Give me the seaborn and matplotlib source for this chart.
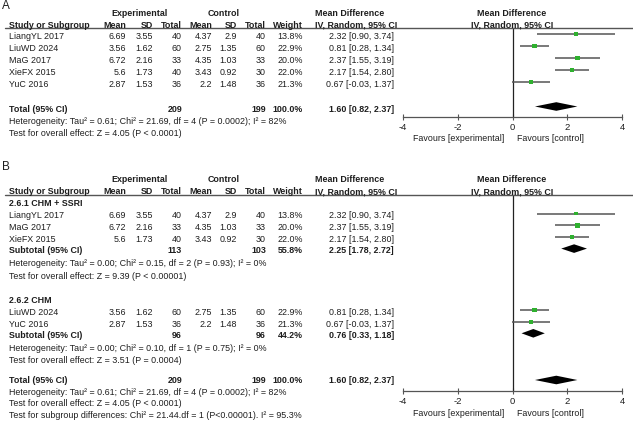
import matplotlib
matplotlib.use("Agg")
import matplotlib.pyplot as plt
import numpy as np
import pandas as pd
import seaborn as sns
from matplotlib.lines import Line2D

# study level data
studies = ["LiangYL 2017", "LiuWD 2024", "MaG 2017", "XieFX 2015", "YuC 2016"]
subgroup = ["2.6.1 CHM + SSRI", "2.6.2 CHM", "2.6.1 CHM + SSRI", "2.6.1 CHM + SSRI", "2.6.2 CHM"]
exp_mean = [6.69, 3.56, 6.72, 5.6, 2.87]
exp_sd = [3.55, 1.62, 2.16, 1.73, 1.53]
exp_n = [40, 60, 33, 40, 36]
ctl_mean = [4.37, 2.75, 4.35, 3.43, 2.2]
ctl_sd = [2.9, 1.35, 1.03, 0.92, 1.48]
ctl_n = [40, 60, 33, 30, 36]
weight = [13.8, 22.9, 20.0, 22.0, 21.3]
md = [2.32, 0.81, 2.37, 2.17, 0.67]
ci_lo = [0.90, 0.28, 1.55, 1.54, -0.03]
ci_hi = [3.74, 1.34, 3.19, 2.80, 1.37]

# pooled estimates
sub_names = ["2.6.1 CHM + SSRI", "2.6.2 CHM"]
sub_exp_n = [113, 96]
sub_ctl_n = [103, 96]
sub_weight = [55.8, 44.2]
sub_md = [2.25, 0.76]
sub_lo = [1.78, 0.33]
sub_hi = [2.72, 1.18]
sub_het = ["Heterogeneity: Tau\u00b2 = 0.00; Chi\u00b2 = 0.15, df = 2 (P = 0.93); I\u00b2 = 0%",
           "Heterogeneity: Tau\u00b2 = 0.00; Chi\u00b2 = 0.10, df = 1 (P = 0.75); I\u00b2 = 0%"]
sub_test = ["Test for overall effect: Z = 9.39 (P < 0.00001)",
            "Test for overall effect: Z = 3.51 (P = 0.0004)"]
tot_exp_n, tot_ctl_n, tot_weight = 209, 199, 100.0
tot_md, tot_lo, tot_hi = 1.60, 0.82, 2.37
tot_het = "Heterogeneity: Tau\u00b2 = 0.61; Chi\u00b2 = 21.69, df = 4 (P = 0.0002); I\u00b2 = 82%"
tot_test = "Test for overall effect: Z = 4.05 (P < 0.0001)"
subgroup_test = "Test for subgroup differences: Chi\u00b2 = 21.44.df = 1 (P<0.00001). I\u00b2 = 95.3%"
x_ticks = [-4, -2, 0, 2, 4]

df = pd.DataFrame(dict(study=studies, subgroup=subgroup, exp_mean=exp_mean, exp_sd=exp_sd,
                       exp_n=exp_n, ctl_mean=ctl_mean, ctl_sd=ctl_sd, ctl_n=ctl_n,
                       weight=weight, md=md, lo=ci_lo, hi=ci_hi))

sns.set_theme(style="white")
plt.rcParams["font.family"] = ["Liberation Sans", "DejaVu Sans"]

W, H = 633, 427
fig = plt.figure(figsize=(W / 100, H / 100), dpi=100)
TXT = "#1e1e1e"
LINE = "#555555"
FS = 6.4

# right edges of the table columns (px)
cols = {"exp_mean": 126, "exp_sd": 153, "exp_n": 182, "ctl_mean": 212,
        "ctl_sd": 237, "ctl_n": 266, "weight": 303, "md": 394}
x_study = 9
x_mdhead = 315
x_plot0, x_plot1 = 403, 622


def t(x, y, s, ha="left", bold=False, size=FS, color=TXT):
    fig.text(x / W, 1 - y / H, s, ha=ha, va="center", fontsize=size,
             fontweight="bold" if bold else "normal", color=color)


def fmt_ci(m, lo, hi):
    return f"{m:.2f} [{lo:.2f}, {hi:.2f}]"


def header(y1, y2, yline):
    t(139, y1, "Experimental", ha="center", bold=True)
    t(224, y1, "Control", ha="center", bold=True)
    t(x_mdhead, y1, "Mean Difference", bold=True)
    t(512, y1, "Mean Difference", ha="center", bold=True)
    t(x_study, y2, "Study or Subgroup", bold=True)
    for key, lab in [("exp_mean", "Mean"), ("exp_sd", "SD"), ("exp_n", "Total"),
                     ("ctl_mean", "Mean"), ("ctl_sd", "SD"), ("ctl_n", "Total"),
                     ("weight", "Weight")]:
        t(cols[key], y2, lab, ha="right", bold=True)
    t(x_mdhead, y2, "IV, Random, 95% CI", bold=True)
    t(512, y2, "IV, Random, 95% CI", ha="center", bold=True)
    fig.add_artist(Line2D([5 / W, 1], [1 - yline / H] * 2, color=LINE, lw=1.0))


def study_row(r, y):
    t(x_study, y, r.study)
    t(cols["exp_mean"], y, f"{r.exp_mean:g}", ha="right")
    t(cols["exp_sd"], y, f"{r.exp_sd:g}", ha="right")
    t(cols["exp_n"], y, f"{r.exp_n}", ha="right")
    t(cols["ctl_mean"], y, f"{r.ctl_mean:g}", ha="right")
    t(cols["ctl_sd"], y, f"{r.ctl_sd:g}", ha="right")
    t(cols["ctl_n"], y, f"{r.ctl_n}", ha="right")
    t(cols["weight"], y, f"{r.weight:.1f}%", ha="right")
    t(cols["md"], y, fmt_ci(r.md, r.lo, r.hi), ha="right")


def pooled_row(y, label, en, cn, w, m, lo, hi):
    t(x_study, y, label, bold=True)
    t(cols["exp_n"], y, f"{en}", ha="right", bold=True)
    t(cols["ctl_n"], y, f"{cn}", ha="right", bold=True)
    t(cols["weight"], y, f"{w:.1f}%", ha="right", bold=True)
    t(cols["md"], y, fmt_ci(m, lo, hi), ha="right", bold=True)


def forest_ax(ytop, ybot, yfav):
    ax = fig.add_axes([x_plot0 / W, 1 - ybot / H, (x_plot1 - x_plot0) / W, (ybot - ytop) / H])
    ax.set_xlim(-4, 4)
    ax.set_ylim(ybot, ytop)
    ax.patch.set_alpha(0)
    for s in ["top", "right", "left"]:
        ax.spines[s].set_visible(False)
    ax.spines["bottom"].set_color(LINE)
    ax.spines["bottom"].set_linewidth(0.9)
    ax.set_xticks(x_ticks)
    ax.set_xticklabels([f"{v:g}" for v in x_ticks])
    ax.tick_params(axis="x", direction="inout", length=5, width=0.8, color=LINE,
                   labelsize=FS + 0.4, labelcolor=TXT, pad=1, bottom=True)
    ax.set_yticks([])
    ax.set_xlabel("")
    ax.set_ylabel("")
    ax.axvline(0, color="#222222", lw=0.9)
    t(504, yfav, "Favours [experimental]", ha="right")
    t(517, yfav, "Favours [control]")
    return ax


def draw_studies(ax, d):
    ax.hlines(d["y"], d["lo"], d["hi"], color=LINE, lw=1.1)
    sns.scatterplot(data=d, x="md", y="y", size="weight", sizes=(6, 12),
                    size_norm=(13.8, 22.9), marker="s", color="#2fb02f",
                    linewidth=0, legend=False, ax=ax, zorder=3)
    ax.set_xlabel("")
    ax.set_ylabel("")


def diamond(ax, y, m, lo, hi, h=4.3):
    ax.fill([lo, m, hi, m], [y, y - h, y, y + h], color="black", lw=0, zorder=3)


# ---------------- panel A ----------------
t(2, 6, "A", size=8.5)
header(13, 25, 29)
dA = df.copy()
dA["y"] = 36.5 + 12 * np.arange(len(dA))
for _, r in dA.iterrows():
    study_row(r, r.y)
pooled_row(109, "Total (95% CI)", tot_exp_n, tot_ctl_n, tot_weight, tot_md, tot_lo, tot_hi)
t(x_study, 121, tot_het)
t(x_study, 133, tot_test)
axA = forest_ax(29, 118, 139)
dA["y"] = dA["y"] - 1.5
draw_studies(axA, dA)
diamond(axA, 107.5, tot_md, tot_lo, tot_hi)

# ---------------- panel B ----------------
t(2, 167, "B", size=8.5)
header(180, 192, 196)
axB = forest_ax(196, 392, 414)
sub_start = [204, 300.5]
for k, name in enumerate(sub_names):
    y0 = sub_start[k]
    t(x_study, y0, name, bold=True)
    d = df[df.subgroup == name].copy()
    d["y"] = y0 + 12 + 11.8 * np.arange(len(d))
    for _, r in d.iterrows():
        study_row(r, r.y)
    ysub = d["y"].iloc[-1] + 11
    pooled_row(ysub, "Subtotal (95% CI)", sub_exp_n[k], sub_ctl_n[k], sub_weight[k],
               sub_md[k], sub_lo[k], sub_hi[k])
    t(x_study, ysub + 13, sub_het[k])
    t(x_study, ysub + 25.5, sub_test[k])
    d["y"] = d["y"] - 1.5
    draw_studies(axB, d)
    diamond(axB, ysub - 1, sub_md[k], sub_lo[k], sub_hi[k])

pooled_row(381, "Total (95% CI)", tot_exp_n, tot_ctl_n, tot_weight, tot_md, tot_lo, tot_hi)
diamond(axB, 381, tot_md, tot_lo, tot_hi)
t(x_study, 392.5, tot_het)
t(x_study, 404, tot_test)
t(x_study, 415.5, subgroup_test)

fig.savefig("out.png", dpi=100)
